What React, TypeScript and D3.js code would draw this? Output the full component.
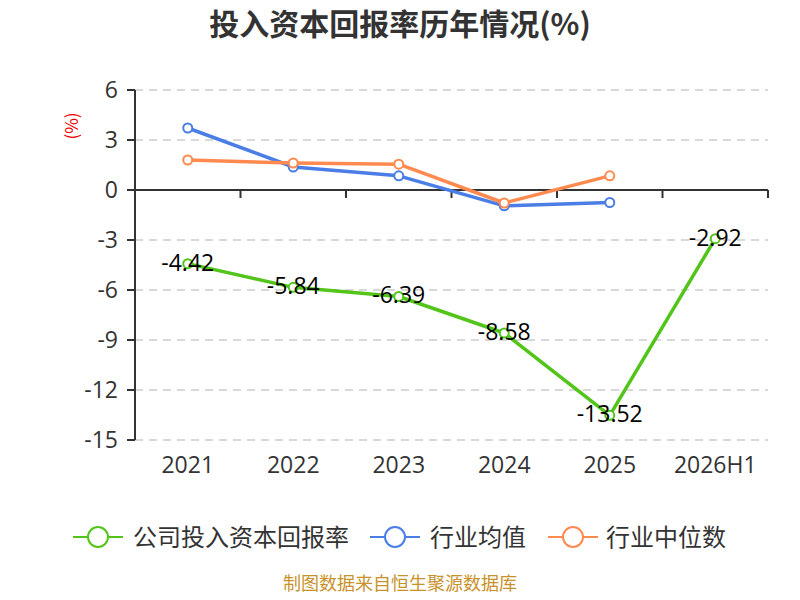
import React from "react";
import * as d3 from "d3";

const categories = ["2021", "2022", "2023", "2024", "2025", "2026H1"];
const companyValues: (number | null)[] = [-4.42, -5.84, -6.39, -8.58, -13.52, -2.92];
const industryAvg: (number | null)[] = [3.72, 1.38, 0.85, -0.95, -0.75, null];
const industryMedian: (number | null)[] = [1.8, 1.62, 1.55, -0.78, 0.85, null];
const yTicks = [6, 3, 0, -3, -6, -9, -12, -15];
const seriesNames = ["公司投入资本回报率", "行业均值", "行业中位数"];
const seriesColors = ["#52c41a", "#4a7ee6", "#ff8a50"];

const FONT = "'Noto Sans CJK SC', 'Noto Sans', sans-serif";
const NUMFONT = "'Open Sans', 'Noto Sans', sans-serif";

export default function App() {
  const W = 800, H = 600;
  const left = 135, right = 768, top = 90, bottom = 440;
  const x = d3.scaleBand<string>().domain(categories).range([left, right]);
  const y = d3.scaleLinear().domain([-15, 6]).range([bottom, top]);
  const cx = (c: string) => (x(c) as number) + x.bandwidth() / 2;

  const line = d3
    .line<[string, number | null]>()
    .defined((d) => d[1] !== null)
    .x((d) => cx(d[0]))
    .y((d) => y(d[1] as number));

  const series = [companyValues, industryAvg, industryMedian];
  const order = [1, 2, 0];
  const boundaries = d3.range(categories.length + 1).map((i) => left + i * x.bandwidth());

  const legendItems = [
    { lx: 73, tx: 133 },
    { lx: 370, tx: 430 },
    { lx: 548, tx: 606 },
  ];

  return (
    <svg width={W} height={H} style={{ position: "absolute", left: 0, top: 0 }} fontFamily={FONT}>
      <rect width={W} height={H} fill="#fff" />
      <text x={400} y={35} textAnchor="middle" fontSize={30} fontWeight="bold" fill="#333">
        投入资本回报率历年情况(%)
      </text>
      <text
        transform={`translate(78,126) rotate(-90)`}
        textAnchor="middle"
        fontSize={17}
        fill="#e00"
      >
        (%)
      </text>
      {yTicks.map((t) => (
        <g key={t}>
          {t !== 0 && (
            <line x1={left} x2={right} y1={y(t)} y2={y(t)} stroke="#ccc" strokeWidth={1.5} strokeDasharray="8,6" />
          )}
          <line x1={left - 8} x2={left} y1={y(t)} y2={y(t)} stroke="#333" strokeWidth={2} />
          <text x={left - 17} y={y(t)} dy="0.36em" textAnchor="end" fontSize={23} fill="#333" fontFamily={NUMFONT}>
            {t}
          </text>
        </g>
      ))}
      <line x1={left} x2={left} y1={top} y2={bottom} stroke="#333" strokeWidth={2} />
      <line x1={left} x2={right} y1={y(0)} y2={y(0)} stroke="#333" strokeWidth={2} />
      {boundaries.map((b, i) => (
        <line key={i} x1={b} x2={b} y1={y(0)} y2={y(0) + 8} stroke="#333" strokeWidth={2} />
      ))}
      {categories.map((c) => (
        <text key={c} x={cx(c)} y={465} dy="0.36em" textAnchor="middle" fontSize={23} fill="#333" fontFamily={NUMFONT}>
          {c}
        </text>
      ))}
      {order.map((si) => {
        const vals = series[si];
        const data = categories.map((c, i) => [c, vals[i]] as [string, number | null]);
        return (
          <g key={si}>
            <path d={line(data) || ""} fill="none" stroke={seriesColors[si]} strokeWidth={3.5} strokeLinejoin="round" />
            {data
              .filter((d) => d[1] !== null)
              .map((d) => (
                <circle
                  key={d[0]}
                  cx={cx(d[0])}
                  cy={y(d[1] as number)}
                  r={4.5}
                  fill="#fff"
                  stroke={seriesColors[si]}
                  strokeWidth={2}
                />
              ))}
          </g>
        );
      })}
      {categories.map((c, i) => (
        <text key={c} x={cx(c)} y={y(companyValues[i] as number)} dy="0.3em" textAnchor="middle" fontSize={23} fill="#000" fontFamily={NUMFONT}>
          {String(companyValues[i])}
        </text>
      ))}
      {seriesNames.map((n, i) => (
        <g key={n}>
          <line x1={legendItems[i].lx} x2={legendItems[i].lx + 50} y1={537} y2={537} stroke={seriesColors[i]} strokeWidth={2} />
          <circle cx={legendItems[i].lx + 25} cy={537} r={10} fill="#fff" stroke={seriesColors[i]} strokeWidth={2} />
          <text x={legendItems[i].tx} y={537} dy="0.36em" fontSize={24} fill="#333">
            {n}
          </text>
        </g>
      ))}
      <text x={400} y={590} textAnchor="middle" fontSize={18} fill="#c8922a">
        制图数据来自恒生聚源数据库
      </text>
    </svg>
  );
}
